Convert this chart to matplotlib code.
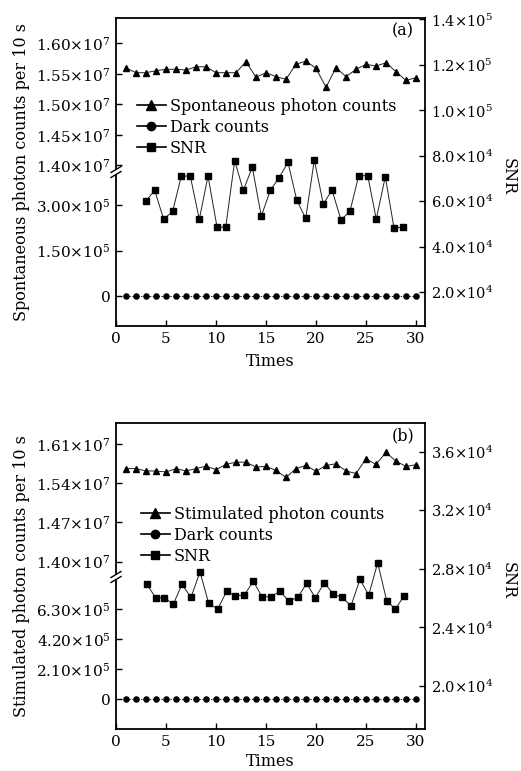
import matplotlib
matplotlib.use('Agg')
import matplotlib.pyplot as plt
from matplotlib.lines import Line2D
from matplotlib.patches import Polygon

# ---------------- data ----------------
times = list(range(1, 31))

# panel (a)
spont_counts = [1.5598, 1.5521, 1.5521, 1.5554, 1.5577, 1.5577, 1.5565, 1.5619, 1.5619, 1.5521,
                1.5521, 1.5521, 1.5700, 1.5446, 1.5521, 1.5456, 1.5414, 1.5658, 1.5712, 1.5593,
                1.5283, 1.5603, 1.5456, 1.5577, 1.5658, 1.5630, 1.5684, 1.5537, 1.5394, 1.5440]  # x1e7
dark_a = [0] * 30
snr_times_a = [2.97, 3.87, 4.77, 5.67, 6.53, 7.43, 8.33, 9.20, 10.10, 10.97,
               11.87, 12.73, 13.63, 14.53, 15.43, 16.30, 17.20, 18.07, 18.97, 19.83,
               20.73, 21.60, 22.50, 23.40, 24.27, 25.17, 26.03, 26.93, 27.80, 28.70]
snr_a = [6.01, 6.48, 5.21, 5.57, 7.11, 7.11, 5.21, 7.11, 4.88, 4.86,
         7.79, 6.48, 7.50, 5.35, 6.48, 7.04, 7.71, 6.06, 5.25, 7.82,
         5.88, 6.50, 5.18, 5.57, 7.13, 7.13, 5.22, 7.08, 4.83, 4.86]  # x1e4

# panel (b)
stim_counts = [1.5663, 1.5663, 1.5621, 1.5621, 1.5603, 1.5663, 1.5621, 1.5663, 1.5708, 1.5645,
               1.5738, 1.5778, 1.5778, 1.5691, 1.5703, 1.5633, 1.5505, 1.5663, 1.5720, 1.5615,
               1.5720, 1.5750, 1.5621, 1.5575, 1.5838, 1.5738, 1.5953, 1.5796, 1.5703, 1.5733]  # x1e7
dark_b = [0] * 30
snr_times_b = [3.07, 3.97, 4.83, 5.73, 6.60, 7.50, 8.40, 9.27, 10.17, 11.07,
               11.93, 12.83, 13.73, 14.60, 15.50, 16.40, 17.27, 18.17, 19.07, 19.93,
               20.83, 21.73, 22.60, 23.50, 24.40, 25.27, 26.17, 27.07, 27.93, 28.80]
snr_b = [2.6956, 2.6021, 2.6021, 2.5590, 2.6935, 2.6048, 2.7795, 2.5638, 2.5249, 2.6478,
         2.6157, 2.6205, 2.7160, 2.6089, 2.6089, 2.6478, 2.5795, 2.6048, 2.7003, 2.6021,
         2.7044, 2.6273, 2.6048, 2.5474, 2.7276, 2.6205, 2.8410, 2.5816, 2.5249, 2.6137]  # x1e4

# tick values / labels
xticks = [0, 5, 10, 15, 20, 25, 30]
a_up_ticks = [1.40e7, 1.45e7, 1.50e7, 1.55e7, 1.60e7]
a_up_labels = [r'$1.40{\times}10^{7}$', r'$1.45{\times}10^{7}$', r'$1.50{\times}10^{7}$',
               r'$1.55{\times}10^{7}$', r'$1.60{\times}10^{7}$']
a_lo_ticks = [0, 1.5e5, 3.0e5]
a_lo_labels = ['0', r'$1.50{\times}10^{5}$', r'$3.00{\times}10^{5}$']
a_r_ticks = [2e4, 4e4, 6e4, 8e4, 1.0e5, 1.2e5, 1.4e5]
a_r_labels = [r'$2.0{\times}10^{4}$', r'$4.0{\times}10^{4}$', r'$6.0{\times}10^{4}$',
              r'$8.0{\times}10^{4}$', r'$1.0{\times}10^{5}$', r'$1.2{\times}10^{5}$',
              r'$1.4{\times}10^{5}$']
b_up_ticks = [1.40e7, 1.47e7, 1.54e7, 1.61e7]
b_up_labels = [r'$1.40{\times}10^{7}$', r'$1.47{\times}10^{7}$', r'$1.54{\times}10^{7}$',
               r'$1.61{\times}10^{7}$']
b_lo_ticks = [0, 2.1e5, 4.2e5, 6.3e5]
b_lo_labels = ['0', r'$2.10{\times}10^{5}$', r'$4.20{\times}10^{5}$', r'$6.30{\times}10^{5}$']
b_r_ticks = [2.0e4, 2.4e4, 2.8e4, 3.2e4, 3.6e4]
b_r_labels = [r'$2.0{\times}10^{4}$', r'$2.4{\times}10^{4}$', r'$2.8{\times}10^{4}$',
              r'$3.2{\times}10^{4}$', r'$3.6{\times}10^{4}$']

# ---------------- style ----------------
plt.rcParams['font.family'] = ['DejaVu Serif']
plt.rcParams['mathtext.fontset'] = 'dejavuserif'
plt.rcParams['font.size'] = 11.5
W, H = 521, 771
fig = plt.figure(figsize=(W / 100, H / 100), dpi=100)

LC = '#222222'
LW = 0.7
SPW = 1.3
TFS = 11


def box(x0, y0, x1, y1):
    return [x0 / W, 1 - y1 / H, (x1 - x0) / W, (y1 - y0) / H]


def tick_style(ax, size=TFS, **kw):
    ax.tick_params(direction='in', length=4, width=1.0, labelsize=size, pad=4, **kw)


def break_mark(xp, yp):
    # white gap with two slanted strokes, in pixel coords
    dx, dy, g = 5, 3, 2.5
    pts = [(xp - dx, yp + dy - g), (xp + dx, yp - dy - g), (xp + dx, yp - dy + g), (xp - dx, yp + dy + g)]
    poly = Polygon([(x / W, 1 - y / H) for x, y in pts], closed=True, transform=fig.transFigure,
                   facecolor='white', edgecolor='none', zorder=20)
    fig.add_artist(poly)
    for off in (-g, g):
        fig.add_artist(Line2D([(xp - dx) / W, (xp + dx) / W],
                              [1 - (yp + dy + off) / H, 1 - (yp - dy + off) / H],
                              transform=fig.transFigure, color='black', lw=1.0, zorder=21))


def panel(top, brk, bot, upv, upt, upl, upylim, lov, lot, lol, loylim,
          snrx, snrv, rt, rl, rylim, series_label, left_label, letter, leg_xy, times_y):
    L, R = 116, 425
    host = fig.add_axes(box(L, top, R, bot))
    host.set_xlim(0, 30.9)
    host.set_ylim(*rylim)
    host.plot(snrx, [v * 1e4 for v in snrv], color=LC, lw=LW, marker='s', ms=3.7,
              mfc='black', mec='black', zorder=3)
    host.yaxis.tick_right()
    host.set_yticks(rt)
    host.set_yticklabels(rl)
    host.set_xticks(xticks)
    tick_style(host, size=10.5, left=False, top=False, right=True, bottom=True)
    host.tick_params(axis='x', labelsize=TFS)
    for s in host.spines.values():
        s.set_linewidth(SPW)
    host.text(0.965, 0.985, letter, transform=host.transAxes,
              ha='right', va='top', fontsize=11.5)
    fig.text(270 / W, 1 - times_y / H, 'Times', ha='center', va='center', fontsize=11.5)
    fig.text(508 / W, 1 - ((top + bot) / 2 + 5) / H, 'SNR', rotation=-90, ha='center', va='center',
             fontsize=11.5)

    up = fig.add_axes(box(L, top, R, brk), sharex=host)
    up.patch.set_alpha(0)
    up.set_ylim(*upylim)
    up.plot(times, [v * 1e7 for v in upv], color=LC, lw=LW, marker='^', ms=4.8,
            mfc='black', mec='black', zorder=3)
    up.set_yticks(upt)
    up.set_yticklabels(upl)
    for k in ('top', 'right', 'bottom', 'left'):
        up.spines[k].set_visible(False)
    tick_style(up, left=True, right=False, bottom=False, top=False, labelbottom=False)

    lo = fig.add_axes(box(L, brk, R, bot), sharex=host)
    lo.patch.set_alpha(0)
    lo.set_ylim(*loylim)
    lo.plot(times, lov, color=LC, lw=LW, ls=(0, (1.5, 1.5)), marker='o', ms=3.7,
            mfc='black', mec='black', zorder=3)
    lo.set_yticks(lot)
    lo.set_yticklabels(lol)
    for k in ('top', 'right', 'bottom', 'left'):
        lo.spines[k].set_visible(False)
    tick_style(lo, left=True, right=False, bottom=False, top=False, labelbottom=False)

    fig.text(22 / W, 1 - ((top + bot) / 2) / H, left_label, rotation=90, ha='center', va='center',
             fontsize=11.5)

    handles = [Line2D([], [], color='black', lw=1.2, marker='^', ms=7, mfc='black'),
               Line2D([], [], color='black', lw=1.2, marker='o', ms=6, mfc='black'),
               Line2D([], [], color='black', lw=1.2, marker='s', ms=6, mfc='black')]
    leg = lo.legend(handles, [series_label, 'Dark counts', 'SNR'], loc='upper left',
                    bbox_to_anchor=(leg_xy[0] / W, 1 - leg_xy[1] / H), bbox_transform=fig.transFigure,
                    frameon=False, borderpad=0, borderaxespad=0, handlelength=1.8,
                    handletextpad=0.25, labelspacing=0.25, fontsize=11.5)
    leg.set_zorder(30)
    break_mark(L, brk)
    return host


panel(18, 172, 326, spont_counts, a_up_ticks, a_up_labels, (1.3893e7, 1.6418e7),
      dark_a, a_lo_ticks, a_lo_labels, (-0.989e5, 4.088e5),
      snr_times_a, snr_a, a_r_ticks, a_r_labels, (5.2e3, 1.406e5),
      'Spontaneous photon counts', 'Spontaneous photon counts per 10 s', '(a)', (137, 98), 361)

panel(422.7, 577, 729, stim_counts, b_up_ticks, b_up_labels, (1.3723e7, 1.6485e7),
      dark_b, b_lo_ticks, b_lo_labels, (-2.079e5, 8.561e5),
      snr_times_b, snr_b, b_r_ticks, b_r_labels, (1.706e4, 3.798e4),
      'Stimulated photon counts', 'Stimulated photon counts per 10 s', '(b)', (141, 506), 761)

fig.savefig('out.png', dpi=100)
